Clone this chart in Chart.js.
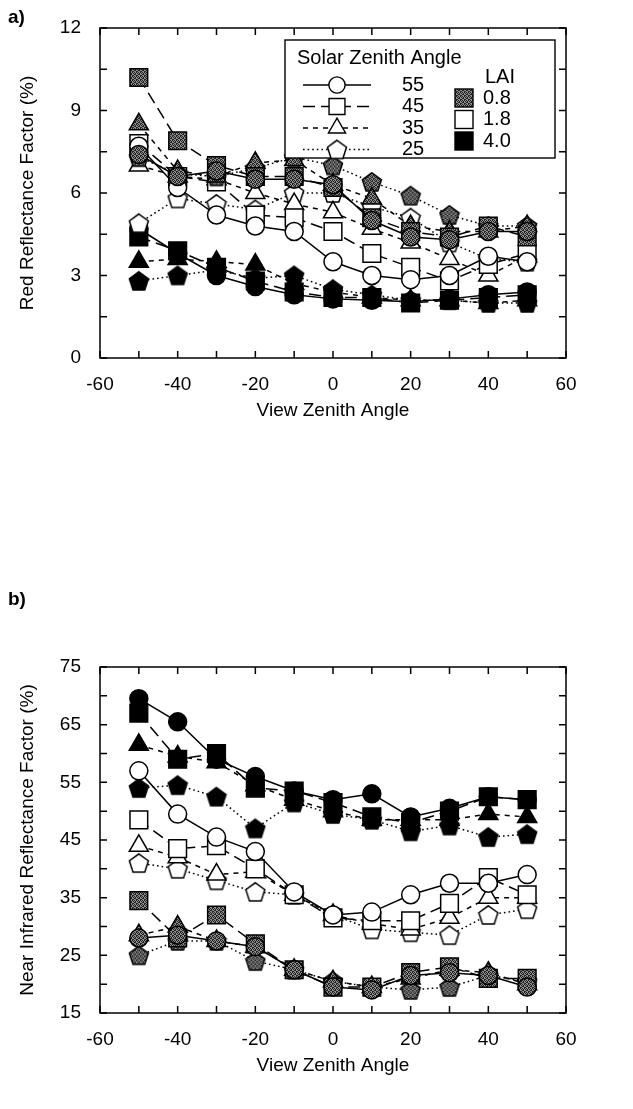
<!DOCTYPE html>
<html>
<head>
<meta charset="utf-8">
<script src="https://cdn.jsdelivr.net/npm/chart.js@4.4.0/dist/chart.umd.min.js"></script>
<style>
  body { margin: 0; background: #fff; width: 633px; height: 1109px; overflow: hidden; }
  .panel { position: absolute; left: 0; width: 633px; }
</style>
</head>
<body>
<div class="panel" style="top:0;height:450px"><canvas id="red" width="633" height="450"></canvas></div>
<div class="panel" style="top:560px;height:549px"><canvas id="nir" width="633" height="549"></canvas></div>
<script>
// View zenith angles (x values)
var viewAngles = [-50, -40, -30, -20, -10, 0, 10, 20, 30, 40, 50];

// Red reflectance (%) - series named by solar zenith angle and LAI
var red55_08 = [7.4, 6.6, 6.8, 6.5, 6.5, 6.3, 5.0, 4.4, 4.3, 4.6, 4.6];
var red45_08 = [10.2, 7.9, 7.0, 6.6, 6.6, 6.2, 5.1, 4.6, 4.4, 4.8, 4.4];
var red35_08 = [8.5, 6.8, 6.6, 7.1, 7.2, 6.3, 5.8, 4.8, 4.6, 4.6, 4.8];
var red25_08 = [7.3, 6.7, 6.6, 6.9, 7.3, 7.0, 6.4, 5.9, 5.2, 4.8, 4.8];
var red55_18 = [7.7, 6.2, 5.2, 4.8, 4.6, 3.5, 3.0, 2.85, 3.0, 3.7, 3.5];
var red45_18 = [7.8, 6.6, 6.4, 5.2, 5.1, 4.6, 3.8, 3.3, 2.8, 3.4, 3.8];
var red35_18 = [7.0, 6.6, 6.5, 6.0, 5.6, 5.3, 4.7, 4.2, 3.6, 3.0, 3.7];
var red25_18 = [4.9, 5.8, 5.6, 5.4, 6.0, 6.0, 5.5, 5.1, 4.2, 3.6, 3.5];
var red55_40 = [4.7, 3.8, 3.0, 2.6, 2.3, 2.15, 2.1, 2.05, 2.15, 2.3, 2.4];
var red45_40 = [4.4, 3.9, 3.3, 2.8, 2.4, 2.2, 2.2, 2.0, 2.1, 2.2, 2.3];
var red35_40 = [3.5, 3.6, 3.5, 3.4, 2.7, 2.4, 2.2, 2.1, 2.1, 2.0, 2.1];
var red25_40 = [2.8, 3.0, 3.2, 2.9, 3.0, 2.5, 2.3, 2.1, 2.1, 2.0, 2.0];

// Near infrared reflectance (%)
var nir55_08 = [28, 28.5, 27.5, 26.5, 22.5, 19.5, 19, 21.5, 22, 21.5, 19.5];
var nir45_08 = [34.5, 28, 32, 27, 22.5, 19.5, 19.5, 22, 23, 21, 21];
var nir35_08 = [28.5, 30, 27.5, 26.5, 22.5, 20.5, 19.5, 21, 22.5, 22, 20];
var nir25_08 = [25, 27.5, 27.5, 24, 22.5, 20.5, 19.5, 19, 19.5, 21.5, 20.5];
var nir55_18 = [57, 49.5, 45.5, 43, 36, 32, 32.5, 35.5, 37.5, 37.5, 39];
var nir45_18 = [48.5, 43.5, 44, 40, 35.5, 31.5, 31, 31, 34, 38.5, 35.5];
var nir35_18 = [44, 42, 39, 39.5, 35.5, 32, 30.5, 29.5, 31.5, 35, 35];
var nir25_18 = [41, 40, 38, 36, 35.5, 32, 29.5, 29, 28.5, 32, 33];
var nir55_40 = [69.5, 65.5, 59, 56, 53.5, 52, 53, 49, 50.5, 52.5, 52];
var nir45_40 = [67, 59, 60, 54, 53.5, 51.5, 49, 48, 50, 52.5, 52];
var nir35_40 = [61.5, 59.5, 58.5, 54.5, 52, 50, 48.5, 48.5, 48.5, 49.5, 49];
var nir25_40 = [54, 54.5, 52.5, 47, 51.5, 49.5, 48.5, 46.5, 47.5, 45.5, 46];

var solarAngles = ['55', '45', '35', '25'];
var laiLabels = ['0.8', '1.8', '4.0'];

var FONT = '"Liberation Sans", Arial, sans-serif';

// stippled gray used for the LAI 0.8 symbols
function makeGray(ctx) {
    var c = document.createElement('canvas');
    c.width = 4; c.height = 4;
    var g = c.getContext('2d');
    g.fillStyle = '#8e8e8e';
    g.fillRect(0, 0, 4, 4);
    g.fillStyle = '#222';
    [[0, 0], [2, 0], [1, 1], [3, 2], [0, 3], [2, 2], [1, 3], [3, 1]].forEach(function (p) { g.fillRect(p[0], p[1], 1, 1); });
    return ctx.createPattern(c, 'repeat');
}

// Chart.js has no pentagon, so build one as an image point style
function makePentagon(fill) {
    var c = document.createElement('canvas');
    c.width = 22; c.height = 22;
    var g = c.getContext('2d');
    g.beginPath();
    for (var i = 0; i < 5; i++) {
        var a = -Math.PI / 2 + i * 2 * Math.PI / 5;
        var px = 11 + 10 * Math.cos(a), py = 11.8 + 10 * Math.sin(a);
        if (i === 0) g.moveTo(px, py); else g.lineTo(px, py);
    }
    g.closePath();
    g.fillStyle = fill;
    g.fill();
    g.lineWidth = 1.5;
    g.strokeStyle = '#000';
    g.stroke();
    return c;
}

var gray = makeGray(document.getElementById('red').getContext('2d'));
var fills = [gray, '#ffffff', '#000000'];
var pentagons = fills.map(makePentagon);
var shapes = ['circle', 'rect', 'triangle', 'pentagon'];
var radii = [9, 12.5, 11, 9];
var dashes = [[], [12, 6], [5, 5], [1.6, 3]];

function buildDatasets(series) {
    // series[lai][sza]
    var sets = [];
    for (var l = 0; l < 3; l++) {
        for (var s = 0; s < 4; s++) {
            var style = shapes[s] === 'pentagon' ? pentagons[l] : shapes[s];
            sets.push({
                label: solarAngles[s] + ' / ' + laiLabels[l],
                data: viewAngles.map(function (v, i) { return { x: v, y: series[l][s][i] }; }),
                borderColor: '#000',
                borderWidth: 1.5,
                borderDash: dashes[s],
                fill: false,
                tension: 0,
                pointStyle: style,
                pointRadius: radii[s],
                pointBorderWidth: 1.5,
                pointBorderColor: '#000',
                pointBackgroundColor: fills[l]
            });
        }
    }
    return sets;
}

var boxTicks = {
    id: 'boxTicks',
    afterDraw: function (chart) {
        var ctx = chart.ctx, a = chart.chartArea, xs = chart.scales.x, ys = chart.scales.y;
        ctx.save();
        ctx.strokeStyle = '#000';
        ctx.lineWidth = 1.5;
        ctx.strokeRect(a.left, a.top, a.right - a.left, a.bottom - a.top);
        ctx.beginPath();
        xs.ticks.forEach(function (t) {
            var px = xs.getPixelForValue(t.value);
            ctx.moveTo(px, a.bottom); ctx.lineTo(px, a.bottom - 7);
            ctx.moveTo(px, a.top); ctx.lineTo(px, a.top + 7);
        });
        ys.ticks.forEach(function (t) {
            var py = ys.getPixelForValue(t.value);
            ctx.moveTo(a.left, py); ctx.lineTo(a.left + 7, py);
            ctx.moveTo(a.right, py); ctx.lineTo(a.right - 7, py);
        });
        ctx.stroke();
        var o = chart.options.plugins.boxTicks;
        ctx.fillStyle = '#000';
        ctx.font = 'bold 19px ' + FONT;
        ctx.textBaseline = 'middle';
        ctx.fillText(o.letter, 8, o.letterY);
        if (o.legend) drawLegend(ctx, a);
        ctx.restore();
    }
};

function drawLegend(ctx, a) {
    var x0 = 285, y0 = 40, w = 270, h = 118;
    ctx.fillStyle = '#fff';
    ctx.fillRect(x0, y0, w, h);
    ctx.lineWidth = 1.4;
    ctx.strokeStyle = '#000';
    ctx.strokeRect(x0, y0, w, h);
    ctx.fillStyle = '#000';
    ctx.font = '20px ' + FONT;
    ctx.textBaseline = 'middle';
    ctx.textAlign = 'left';
    ctx.fillText('Solar Zenith Angle', x0 + 12, y0 + 18);
    for (var s = 0; s < 4; s++) {
        var ry = y0 + 45 + s * 21.5;
        ctx.setLineDash(dashes[s]);
        ctx.beginPath();
        ctx.moveTo(x0 + 18, ry); ctx.lineTo(x0 + 86, ry);
        ctx.stroke();
        ctx.setLineDash([]);
        ctx.fillStyle = '#fff';
        if (shapes[s] === 'pentagon') {
            ctx.drawImage(pentagons[1], x0 + 52 - 11, ry - 11);
        } else {
            Chart.helpers.drawPoint(ctx, { pointStyle: shapes[s], radius: radii[s] * 0.9, rotation: 0, borderWidth: 1.4 }, x0 + 52, ry);
        }
        ctx.fillStyle = '#000';
        ctx.fillText(solarAngles[s], x0 + 117, ry);
    }
    ctx.fillText('LAI', x0 + 200, y0 + 37);
    for (var l = 0; l < 3; l++) {
        var ly = y0 + 58 + l * 21.5;
        ctx.fillStyle = fills[l];
        ctx.fillRect(x0 + 170, ly - 9, 18, 18);
        ctx.strokeRect(x0 + 170, ly - 9, 18, 18);
        ctx.fillStyle = '#000';
        ctx.fillText(laiLabels[l], x0 + 198, ly);
    }
}

function makePanel(id, series, yMin, yMax, yStep, yLabelStep, yTitle, letter, letterY, pad, legend) {
    var font = { family: FONT, size: 19 };
    new Chart(document.getElementById(id), {
        type: 'line',
        data: { datasets: buildDatasets(series) },
        options: {
            responsive: false,
            animation: false,
            events: [],
            layout: { padding: pad },
            plugins: {
                legend: { display: false },
                tooltip: { enabled: false },
                boxTicks: { letter: letter, letterY: letterY, legend: legend }
            },
            scales: {
                x: {
                    type: 'linear', min: -60, max: 60,
                    grid: { display: false },
                    border: { display: false },
                    ticks: {
                        stepSize: 10, autoSkip: false, maxRotation: 0, padding: 7,
                        color: '#000', font: font,
                        callback: function (v) { return v % 20 === 0 ? v : ''; }
                    },
                    title: { display: true, text: 'View Zenith Angle', color: '#000', font: font, padding: { top: 0, bottom: 6 } },
                    afterFit: function (scale) { scale.height = 70; }
                },
                y: {
                    type: 'linear', min: yMin, max: yMax,
                    grid: { display: false },
                    border: { display: false },
                    ticks: {
                        stepSize: yStep, autoSkip: false, padding: 11,
                        color: '#000', font: font,
                        callback: function (v) {
                            var r = (v - yMin) / yLabelStep;
                            return Math.abs(r - Math.round(r)) < 1e-6 ? v : '';
                        }
                    },
                    title: { display: true, text: yTitle, color: '#000', font: font, padding: { top: 16, bottom: 0 } },
                    afterFit: function (scale) { scale.width = 100; }
                }
            }
        },
        plugins: [boxTicks]
    });
}

makePanel('red',
    [[red55_08, red45_08, red35_08, red25_08], [red55_18, red45_18, red35_18, red25_18], [red55_40, red45_40, red35_40, red25_40]],
    0, 12, 1.5, 3, 'Red Reflectance Factor (%)', 'a)', 18,
    { left: 0, right: 67, top: 28, bottom: 22 }, true);

makePanel('nir',
    [[nir55_08, nir45_08, nir35_08, nir25_08], [nir55_18, nir45_18, nir35_18, nir25_18], [nir55_40, nir45_40, nir35_40, nir25_40]],
    15, 75, 5, 10, 'Near Infrared Reflectance Factor (%)', 'b)', 40,
    { left: 0, right: 67, top: 107, bottom: 26 }, false);
</script>
</body>
</html>
